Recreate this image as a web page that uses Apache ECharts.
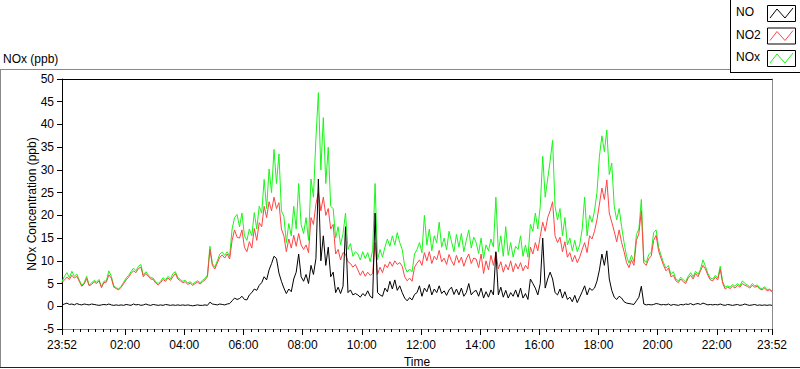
<!DOCTYPE html>
<html><head><meta charset="utf-8">
<script src="https://cdn.jsdelivr.net/npm/echarts@6/dist/echarts.min.js"></script>
<style>html,body{margin:0;padding:0;background:#fff}#c{width:800px;height:369px}</style>
</head><body><div id="c"></div>
<script>
// ---- data (ppb), 5-minute samples starting 23:52 ----
const seriesNames = ['NO', 'NO2', 'NOx'];
const startMinute = -8;   // 23:52 of the previous day, minutes from midnight
const stepMinutes = 5;
const endMinute = 1432;   // 23:52
const majorTickMinutes = [-8, 120, 240, 360, 480, 600, 720, 840, 960, 1080, 1200, 1320, 1432];

const no = [
 0.3,0.5,0.7,0.4,0.5,0.3,0.6,0.4,0.3,0.5,0.4,0.3,0.5,0.4,0.3,0.2,0.3,0.4,0.3,0.5,0.3,0.2,0.3,0.2,
 0.3,0.2,0.4,0.3,0.2,0.5,0.3,0.4,0.2,0.3,0.5,0.3,0.2,0.4,0.3,0.2,0.3,0.2,0.4,0.3,0.2,0.3,0.2,0.3,
 0.2,0.3,0.2,0.3,0.2,0.1,0.2,0.3,0.2,0.2,0.3,0.2,0.9,0.5,0.4,0.3,0.5,0.4,0.3,0.5,0.6,1.2,1.8,1.5,
 1.7,2.2,1.5,1.4,2.5,3.0,3.8,3.5,4.6,5.2,6.5,5.8,8.0,9.4,11.0,10.5,7.3,5.5,4.0,2.8,3.8,3.2,6.0,7.5,
 11.5,6.5,5.5,7.0,5.0,9.0,7.0,10.5,28.0,10.0,15.5,9.0,13.0,6.5,7.5,3.0,4.2,2.8,4.4,17.5,3.0,3.6,2.5,2.8,
 2.5,2.0,2.8,2.3,3.4,2.2,1.8,20.5,3.0,2.5,2.2,4.0,3.2,5.5,3.8,5.8,3.5,4.5,3.0,1.8,1.2,1.9,1.4,2.6,
 3.0,4.5,2.2,4.0,3.2,4.8,2.5,3.8,3.0,4.5,2.8,3.4,2.4,3.6,4.2,2.6,3.8,2.5,4.0,2.2,3.0,5.0,2.5,3.2,
 3.5,2.2,4.0,1.8,3.2,2.0,3.6,2.5,12.0,2.5,4.2,2.0,3.5,1.8,3.0,2.2,3.6,2.0,4.0,1.8,2.8,1.5,6.0,5.0,
 4.0,2.5,5.0,15.0,4.0,6.0,7.5,6.0,3.0,2.5,3.8,1.8,3.2,1.5,2.0,1.0,2.4,0.8,2.0,3.2,4.5,2.5,4.0,3.5,
 4.0,5.5,8.0,11.5,9.0,12.2,6.0,3.5,2.0,1.5,2.2,1.8,1.0,0.7,0.6,0.5,0.4,1.2,2.0,4.4,0.5,0.3,0.4,0.3,
 0.4,0.6,0.5,0.3,0.4,0.3,0.5,0.2,0.4,0.3,0.2,0.4,0.3,0.5,0.4,0.6,0.3,0.5,0.6,0.4,0.7,0.5,0.3,0.4,
 0.3,0.4,0.3,0.5,0.3,0.2,0.4,0.3,0.2,0.3,0.4,0.2,0.3,0.5,0.3,0.2,0.3,0.4,0.2,0.3,0.2,0.3,0.2,0.3,0.2
];
const no2 = [
 5.2,5.8,6.4,5.9,6.8,6.2,6.6,5.5,4.4,4.9,6.1,4.5,4.8,5.4,5.0,5.6,4.1,5.2,5.3,6.9,6.2,4.2,3.9,3.6,
 4.2,5.0,5.8,6.4,7.2,7.8,7.4,8.3,8.6,6.5,7.2,6.6,6.0,5.9,5.1,4.7,5.2,5.9,5.5,6.2,5.7,6.5,7.2,6.0,
 5.6,5.2,5.4,4.8,5.1,4.6,5.0,5.3,4.9,5.4,5.8,6.5,12.5,9.0,8.2,9.5,10.8,11.3,10.6,11.5,10.4,14.5,16.8,15.2,
 15.0,16.8,13.0,12.0,14.2,12.8,17.1,14.5,18.4,17.5,22.0,19.5,23.0,21.0,24.0,21.5,22.8,17.0,15.5,12.0,14.8,12.8,15.6,13.2,
 16.0,13.5,12.5,13.5,11.8,19.5,18.0,22.5,25.0,21.0,24.0,20.0,21.5,17.0,18.0,11.5,12.5,10.2,11.8,11.5,9.8,9.4,8.6,9.2,
 8.0,6.8,7.8,6.6,7.5,6.8,7.2,14.0,7.0,8.6,7.4,9.2,8.5,9.8,8.8,10.0,9.2,9.6,8.8,6.5,5.6,6.2,5.5,8.6,
 9.5,10.2,9.0,11.8,10.0,12.0,9.4,11.0,10.2,12.3,9.8,10.6,9.2,11.4,10.0,9.0,11.2,9.6,10.8,8.8,10.4,11.5,9.4,10.6,
 10.4,8.5,11.5,7.2,10.0,8.0,11.2,9.0,11.8,8.2,9.8,7.5,9.2,8.0,10.0,7.6,9.4,8.2,9.6,7.8,9.0,8.2,13.0,11.5,
 14.0,12.2,15.4,18.5,16.5,19.5,21.0,23.0,15.5,14.0,15.2,12.0,14.2,10.8,11.8,9.8,11.2,9.6,10.8,12.5,14.0,11.8,15.5,14.8,
 16.5,19.0,22.5,26.0,23.5,27.8,20.5,18.5,16.5,14.2,16.8,14.0,12.0,9.6,8.5,10.2,9.0,14.5,16.0,21.0,9.5,9.0,10.5,11.0,
 14.5,15.6,12.2,10.5,9.0,7.8,8.4,6.5,6.8,5.6,5.2,6.0,5.4,5.0,6.2,6.8,6.0,7.2,6.5,7.8,9.0,8.2,6.8,5.8,
 5.6,6.4,5.8,8.2,5.0,3.8,4.2,3.9,4.4,4.0,4.6,4.2,5.0,4.6,4.4,4.0,4.6,4.2,4.4,3.8,3.6,4.0,3.4,3.6,3.2
];
const nox = [
 5.4,6.6,7.4,6.3,7.7,6.6,7.1,5.8,4.6,5.2,6.6,4.7,5.1,5.7,5.3,5.9,4.3,5.5,5.6,7.8,6.6,4.5,4.1,3.8,
 4.4,5.3,6.2,6.8,7.6,8.4,7.8,8.8,9.2,6.8,7.6,6.9,6.3,6.2,5.4,5.0,5.5,6.3,5.8,6.6,6.0,7.2,7.6,6.3,
 5.9,5.5,5.7,5.1,5.4,4.9,5.3,5.6,5.2,5.7,6.1,6.9,13.2,9.4,8.6,10.0,11.5,11.9,11.2,12.0,11.0,17.0,19.5,20.2,
 17.5,20.5,15.5,14.5,17.0,15.5,20.6,17.0,22.0,20.5,27.9,21.5,30.2,25.0,34.5,27.0,33.5,21.0,19.8,14.0,18.2,15.5,22.0,17.0,
 27.0,18.0,16.0,19.5,14.5,28.0,24.0,37.0,47.0,30.0,41.5,27.0,35.0,22.0,21.5,15.0,17.5,13.5,16.0,20.5,12.5,13.8,11.0,12.0,
 11.5,10.2,12.0,10.5,11.8,9.8,12.3,27.0,10.2,12.5,10.8,13.0,14.8,13.2,15.5,13.5,16.2,14.0,12.5,8.8,7.5,8.2,7.6,11.5,
 12.5,14.0,11.8,20.0,13.5,17.0,12.2,15.5,14.0,18.5,13.0,15.0,12.4,16.5,14.2,12.0,15.8,13.0,16.0,12.0,14.5,16.8,12.8,15.2,
 14.0,11.6,15.0,10.5,13.5,12.2,14.8,13.0,24.0,12.0,15.5,11.0,17.5,11.2,14.0,10.8,13.2,12.5,15.5,11.0,13.5,10.8,18.0,16.5,
 20.5,17.0,22.0,33.0,24.0,28.0,32.0,36.5,22.0,19.0,21.5,15.5,19.5,13.5,15.0,12.2,14.5,12.0,13.5,17.0,24.0,15.5,20.0,18.5,
 21.0,25.0,33.0,37.5,34.0,38.8,29.0,31.5,22.0,19.0,21.5,17.5,14.0,11.0,9.5,11.2,9.8,15.8,17.0,23.5,10.2,9.6,11.4,11.8,
 16.2,16.8,13.0,11.2,9.6,8.4,9.0,7.0,7.6,6.0,5.6,6.4,5.8,5.4,6.6,7.4,6.5,7.7,7.0,8.2,10.2,8.8,7.2,6.2,
 6.0,6.8,6.2,8.8,5.4,4.2,4.5,4.2,4.8,4.4,5.0,4.5,5.6,5.0,4.7,4.3,5.0,4.5,4.7,4.0,3.9,4.3,3.6,3.8,3.4
];

// ---- helpers ----
const FONT = 'Liberation Sans';
const minorTickMinutes = [];
for (let m = 0; m <= 1425; m += 15) if (m % 120 !== 0) minorTickMinutes.push(m);
function pts(arr) { return arr.map((v, i) => [startMinute + i * stepMinutes, v]); }
function fmt(m) {
  let mm = ((m % 1440) + 1440) % 1440;
  const h = Math.floor(mm / 60), n = mm % 60;
  return String(h).padStart(2, '0') + ':' + String(n).padStart(2, '0');
}
const colors = { NO: '#000000', NO2: '#ff4444', NOx: '#19f519' };
const seriesData = { NO: no, NO2: no2, NOx: nox };

const chart = echarts.init(document.getElementById('c'), null, { renderer: 'svg' });

// legend graphics (box + zigzag icons)
const legendGraphics = [];
seriesNames.forEach((name, k) => {
  const y0 = 5 + k * 22.5;
  legendGraphics.push({
    type: 'text', left: 736, top: y0 + 1,
    style: { text: name, font: '12px "Liberation Sans"', fill: '#000' }
  });
  legendGraphics.push({
    type: 'rect', shape: { x: 767.5, y: y0 + 0.5, width: 28, height: 16 },
    style: { fill: '#fff', stroke: '#000', lineWidth: 1 }
  });
  legendGraphics.push({
    type: 'polyline', shape: { points: [[770, y0 + 13], [777, y0 + 4], [785, y0 + 13], [793, y0 + 3]] },
    style: { stroke: colors[name], lineWidth: 1, fill: null }
  });
});

const option = {
  animation: false,
  backgroundColor: '#fff',
  textStyle: { fontFamily: FONT },
  title: {
    text: 'NOx (ppb)', left: 3, top: 53, padding: 0,
    textStyle: { fontSize: 12, fontWeight: 'normal', color: '#000', fontFamily: FONT }
  },
  grid: { left: 62, top: 79, width: 710, height: 250, show: false, containLabel: false, outerBoundsMode: 'none' },
  xAxis: [
    {
      type: 'value', min: startMinute, max: endMinute, position: 'bottom',
      axisLine: { show: true, onZero: false, lineStyle: { color: '#8a8a8a', width: 1 } },
      axisTick: { show: true, customValues: majorTickMinutes, length: 6, lineStyle: { color: '#000' } },
      axisLabel: { customValues: majorTickMinutes, formatter: fmt, margin: 10, fontSize: 12, color: '#000', fontFamily: FONT, showMinLabel: true, showMaxLabel: true },
      splitLine: { show: false },
      name: 'Time', nameLocation: 'middle', nameGap: 27, nameMoveOverlap: false,
      nameTextStyle: { fontSize: 12, color: '#000', fontFamily: FONT }
    },
    {
      type: 'value', min: startMinute, max: endMinute, position: 'bottom',
      axisLine: { show: false, onZero: false },
      axisTick: { show: true, customValues: minorTickMinutes, length: 3, lineStyle: { color: '#000' } },
      axisLabel: { show: false }, splitLine: { show: false }
    },
    {
      type: 'value', min: startMinute, max: endMinute, position: 'top',
      axisLine: { show: true, onZero: false, lineStyle: { color: '#000' } },
      axisTick: { show: false }, axisLabel: { show: false }, splitLine: { show: false }
    }
  ],
  yAxis: [
    {
      type: 'value', min: -5, max: 50, interval: 5, position: 'left',
      axisLine: { show: true, onZero: false, lineStyle: { color: '#000' } },
      axisTick: { show: true, length: 5, lineStyle: { color: '#000' } },
      axisLabel: { margin: 8, fontSize: 12, color: '#000', fontFamily: FONT },
      splitLine: { show: false },
      name: 'NOx Concentration (ppb)', nameLocation: 'middle', nameGap: 24, nameRotate: 90, nameMoveOverlap: false,
      nameTextStyle: { fontSize: 12, color: '#000', fontFamily: FONT }
    },
    {
      type: 'value', min: -5, max: 50, interval: 5, position: 'right',
      axisLine: { show: true, onZero: false, lineStyle: { color: '#8a8a8a' } },
      axisTick: { show: false }, axisLabel: { show: false }, splitLine: { show: false }
    }
  ],
  series: ['NOx', 'NO2', 'NO'].map(name => ({
    name, type: 'line', xAxisIndex: 0, yAxisIndex: 0,
    data: pts(seriesData[name]), showSymbol: false, symbol: 'none',
    lineStyle: { color: colors[name], width: 1 }, itemStyle: { color: colors[name] },
    emphasis: { disabled: true }
  })),
  graphic: [
    { type: 'line', shape: { x1: 0, y1: 69.5, x2: 730, y2: 69.5 }, style: { stroke: '#8a8a8a', lineWidth: 1 } },
    { type: 'line', shape: { x1: 0.5, y1: 69, x2: 0.5, y2: 368 }, style: { stroke: '#8a8a8a', lineWidth: 1 } },
    { type: 'line', shape: { x1: 0, y1: 367.5, x2: 800, y2: 367.5 }, style: { stroke: '#222', lineWidth: 1 } },
    { type: 'line', shape: { x1: 730.5, y1: 0, x2: 730.5, y2: 72 }, style: { stroke: '#000', lineWidth: 1 } },
    { type: 'line', shape: { x1: 730, y1: 72.5, x2: 800, y2: 72.5 }, style: { stroke: '#000', lineWidth: 1 } }
  ].concat(legendGraphics)
};
chart.setOption(option);
</script>
</body></html>
